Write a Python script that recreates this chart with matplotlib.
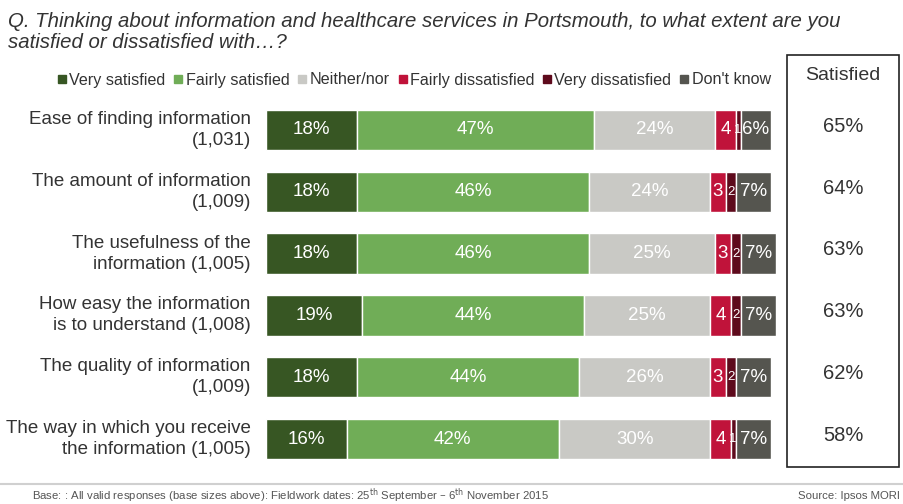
import matplotlib.pyplot as plt
from matplotlib.lines import Line2D
from matplotlib.patches import Rectangle
from matplotlib.transforms import blended_transform_factory

plt.rcParams["font.family"] = ["Liberation Sans", "DejaVu Sans"]

TITLE = ("Q. Thinking about information and healthcare services in Portsmouth, to what extent are you\n"
         "satisfied or dissatisfied with…?")
CATEGORIES = [
    "Ease of finding information\n(1,031)",
    "The amount of information\n(1,009)",
    "The usefulness of the\ninformation (1,005)",
    "How easy the information\nis to understand (1,008)",
    "The quality of information\n(1,009)",
    "The way in which you receive\nthe information (1,005)",
]
RESPONSES = ["Very satisfied", "Fairly satisfied", "Neither/nor",
             "Fairly dissatisfied", "Very dissatisfied", "Don't know"]
very_satisfied = [18, 18, 18, 19, 18, 16]
fairly_satisfied = [47, 46, 46, 44, 44, 42]
neither = [24, 24, 25, 25, 26, 30]
fairly_dissatisfied = [4, 3, 3, 4, 3, 4]
very_dissatisfied = [1, 2, 2, 2, 2, 1]
dont_know = [6, 7, 7, 7, 7, 7]
satisfied = [65, 64, 63, 63, 62, 58]

COLORS = ["#375623", "#70AD57", "#C9C9C5", "#C0133A", "#5E0A1C", "#55554F"]
series = [very_satisfied, fairly_satisfied, neither,
          fairly_dissatisfied, very_dissatisfied, dont_know]

fig = plt.figure(figsize=(9.04, 5.04), dpi=100)
ax = fig.add_axes([266 / 904, 34 / 504, 510 / 904, 371 / 504])

rows = list(range(len(CATEGORIES)))
left = [0] * len(rows)
for vals, color in zip(series, COLORS):
    bars = ax.barh(rows, vals, left=left, height=0.65, color=color,
                   edgecolor="white", linewidth=1)
    for b, v in zip(bars, vals):
        cx = b.get_x() + b.get_width() / 2
        cy = b.get_y() + b.get_height() / 2
        if v >= 5:
            ax.text(cx, cy, f"{v}%", ha="center", va="center",
                    color="white", fontsize=13.5)
        else:
            ax.text(cx, cy, str(v), ha="center", va="center", color="white",
                    fontsize=13.5 if v >= 3 else 9.5)
    left = [l + v for l, v in zip(left, vals)]

ax.set_xlim(0, 101)
ax.set_ylim(len(rows) - 0.5, -0.5)
ax.axis("off")

for i, cat in enumerate(CATEGORIES):
    ax.text(-3.0, i, cat, ha="right", va="center", fontsize=13.5,
            color="#333333", linespacing=1.3)

# satisfied column on the right
fig.patches.append(Rectangle((787 / 904, 37 / 504), 112 / 904, 412 / 504,
                             transform=fig.transFigure, fill=False,
                             edgecolor="#222222", linewidth=1.2))
fig.text(843 / 904, 1 - 76 / 504, "Satisfied", ha="center", va="center",
         fontsize=14, color="#333333")
col = blended_transform_factory(fig.transFigure, ax.transData)
for i, s in enumerate(satisfied):
    ax.text(843 / 904, i - 0.06, f"{s}%", ha="center", va="center",
            fontsize=14.5, color="#333333", transform=col)

fig.text(8 / 904, 1 - 32 / 504, TITLE, ha="left", va="center", fontsize=14.7,
         style="italic", color="#333333", linespacing=1.15)

handles = [Line2D([], [], marker="s", linestyle="none", markersize=6,
                  markerfacecolor=c, markeredgecolor=c) for c in COLORS]
fig.legend(handles, RESPONSES, loc="center", bbox_to_anchor=(414 / 904, 1 - 80 / 504),
           ncol=6, frameon=False, fontsize=11.6, handlelength=0.6,
           handletextpad=0.15, columnspacing=0.5, labelcolor="#333333")

fig.add_artist(Line2D([0, 1], [1 - 484 / 504] * 2, transform=fig.transFigure,
                      color="#D0D0D0", linewidth=1.5))
fig.text(32 / 904, 1 - 496 / 504,
         "Base: : All valid responses (base sizes above): Fieldwork dates: "
         "25$^{\\rm th}$ September – 6$^{\\rm th}$ November 2015",
         ha="left", va="center", fontsize=8.2, color="#555555")
fig.text(900 / 904, 1 - 496 / 504, "Source: Ipsos MORI", ha="right",
         va="center", fontsize=8.2, color="#555555")

fig.savefig("out.png", dpi=100)
